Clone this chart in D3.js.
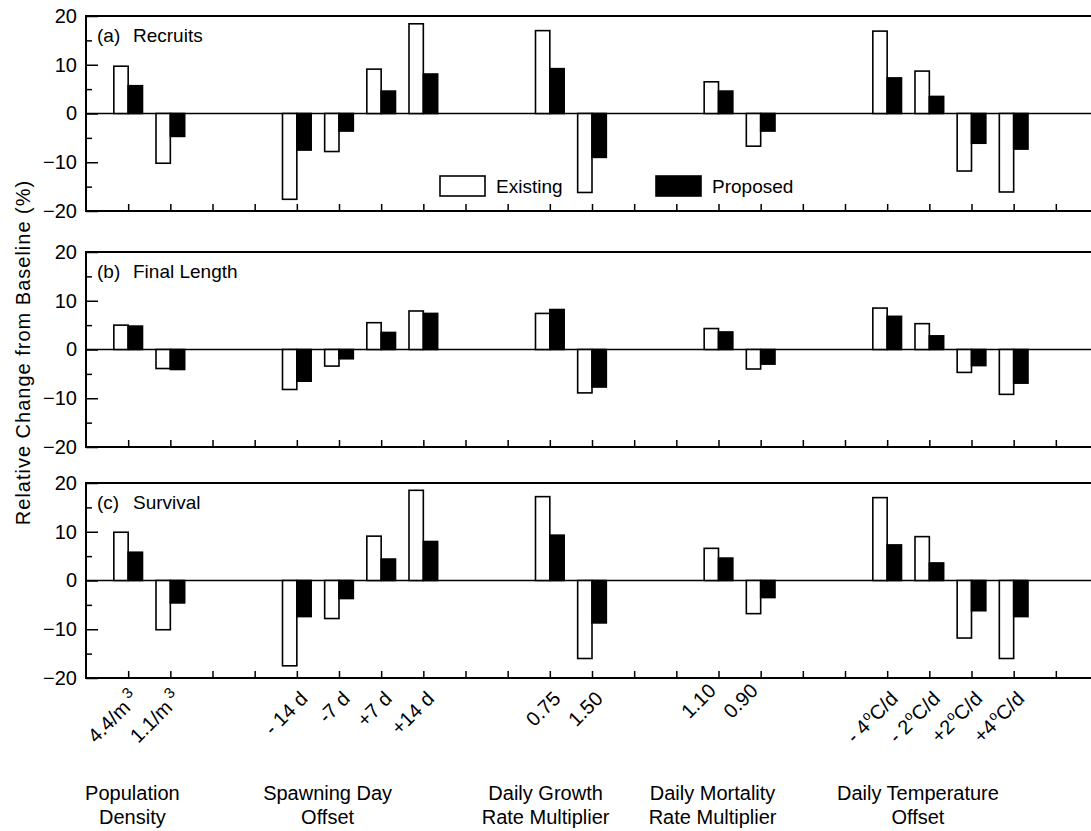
<!DOCTYPE html>
<html lang="en">
  <head>
    <meta charset="utf-8" />
    <title>Relative change from baseline</title>
    <style>
      body { margin: 0; background: #fff; }
      text { font-family: "Liberation Sans", Arial, Helvetica, sans-serif; fill: #000; }
    </style>
  </head>
  <body>
    <script src="https://d3js.org/d3.v7.min.js"></script>
    <div id="chart"></div>
    <script>
      // ---- data ----
      const groupTitles = [
        ["Population", "Density"],
        ["Spawning Day", "Offset"],
        ["Daily Growth", "Rate Multiplier"],
        ["Daily Mortality", "Rate Multiplier"],
        ["Daily Temperature", "Offset"]
      ];
      const groupSizes = [2, 4, 2, 2, 4];
      // [text, superscript, text after superscript]
      const tickLabels = [
        ["4.4/m", "3", ""], ["1.1/m", "3", ""],
        ["- 14 d"], ["-7 d"], ["+7 d"], ["+14 d"],
        ["0.75"], ["1.50"],
        ["1.10"], ["0.90"],
        ["- 4", "o", "C/d"], ["- 2", "o", "C/d"], ["+2", "o", "C/d"], ["+4", "o", "C/d"]
      ];
      const panelNames = ["(a)", "(b)", "(c)"];
      const panelTitles = ["Recruits", "Final Length", "Survival"];
      const seriesNames = ["Existing", "Proposed"];

      const recruitsExisting = [9.7, -10.2, -17.6, -7.8, 9.1, 18.4, 17.0, -16.2, 6.5, -6.7, 16.9, 8.7, -11.8, -16.1];
      const recruitsProposed = [5.7, -4.7, -7.5, -3.6, 4.6, 8.1, 9.2, -9.0, 4.6, -3.6, 7.3, 3.5, -6.1, -7.3];
      const lengthExisting = [5.0, -3.9, -8.2, -3.4, 5.5, 7.9, 7.4, -8.9, 4.3, -4.0, 8.5, 5.3, -4.7, -9.2];
      const lengthProposed = [4.8, -4.1, -6.5, -1.9, 3.5, 7.4, 8.2, -7.7, 3.6, -3.0, 6.8, 2.8, -3.3, -6.9];
      const survivalExisting = [9.9, -10.1, -17.5, -7.8, 9.1, 18.5, 17.2, -16.0, 6.6, -6.8, 17.0, 9.0, -11.8, -16.0];
      const survivalProposed = [5.8, -4.6, -7.4, -3.7, 4.4, 8.0, 9.3, -8.7, 4.6, -3.5, 7.3, 3.6, -6.2, -7.4];

      const yMajor = [-20, -10, 0, 10, 20];
      const yMinor = [-15, -5, 5, 15];

      // ---- layout ----
      const width = 1091, height = 831;
      const panelTop = [16, 252, 483], panelH = 195;
      const barW = 0.34;
      const titleNudge = [-0.4, -0.77, -0.6, -0.64, -0.77];
      const labelNudge = [0, 0, 0, -0.32, 0]; // mortality labels sit left of their ticks

      // slot position of every category: groups separated by two empty slots
      const catPos = [], catGroup = [];
      let slot = 1;
      groupSizes.forEach((n, g) => {
        for (let i = 0; i < n; i++) { catPos.push(slot + i); catGroup.push(g); }
        slot += n + 2;
      });
      const nSlots = slot - 1; // 23

      const panels = [
        [recruitsExisting, recruitsProposed],
        [lengthExisting, lengthProposed],
        [survivalExisting, survivalProposed]
      ];

      const svg = d3.select("#chart").append("svg")
        .attr("width", width).attr("height", height);

      const x = d3.scaleLinear().domain([0, nSlots]).range([86, 1098]);
      const xLeft = x(0), xRight = x(nSlots);

      panels.forEach((series, p) => {
        const top = panelTop[p], bottom = top + panelH;
        const y = d3.scaleLinear().domain([-20, 20]).range([bottom, top]);
        const g = svg.append("g");

        // minor and major y ticks (pointing inward), labels on the left
        g.append("g").attr("transform", `translate(${xLeft},0)`)
          .call(d3.axisLeft(y).tickValues(yMinor).tickSize(-6).tickFormat(""))
          .call(a => a.select(".domain").remove())
          .call(a => a.selectAll("line").attr("stroke-width", 1.5));
        g.append("g").attr("transform", `translate(${xLeft},0)`)
          .call(d3.axisLeft(y).tickValues(yMajor).tickSize(-12).tickPadding(9).tickFormat(d3.format("d")))
          .call(a => a.select(".domain").remove())
          .call(a => a.selectAll("line").attr("stroke-width", 1.5))
          .call(a => a.selectAll("text").attr("font-size", 20).attr("font-family", null).attr("fill", "#000"));

        // x ticks on the bottom edge, pointing up
        g.append("g").attr("transform", `translate(0,${bottom})`)
          .call(d3.axisBottom(x).tickValues(d3.range(1, nSlots)).tickSize(-7).tickFormat(""))
          .call(a => a.select(".domain").remove())
          .call(a => a.selectAll("line").attr("stroke-width", 1.5));

        // zero line
        g.append("line")
          .attr("x1", xLeft).attr("x2", xRight)
          .attr("y1", y(0)).attr("y2", y(0))
          .attr("stroke", "#000").attr("stroke-width", 1.3);

        // bars
        series.forEach((vals, s) => {
          g.selectAll(null).data(vals).join("rect")
            .attr("x", (d, i) => x(catPos[i] + (s === 0 ? -barW : 0)))
            .attr("width", x(barW) - x(0))
            .attr("y", d => y(Math.max(0, d)))
            .attr("height", d => Math.abs(y(d) - y(0)))
            .attr("fill", s === 0 ? "#fff" : "#000")
            .attr("stroke", "#000")
            .attr("stroke-width", 1.6);
        });

        // frame: left, top, bottom
        g.append("path")
          .attr("d", `M${xRight},${top}H${xLeft}V${bottom}H${xRight}`)
          .attr("fill", "none").attr("stroke", "#000").attr("stroke-width", 2);

        // panel label
        g.append("text").attr("x", xLeft + 11).attr("y", top + 26)
          .attr("font-size", 19).text(panelNames[p]);
        g.append("text").attr("x", xLeft + 47).attr("y", top + 26)
          .attr("font-size", 19).text(panelTitles[p]);
      });

      // legend inside panel (a)
      const legend = svg.append("g").attr("transform", `translate(0,${panelTop[0] + 160})`);
      const legendX = [440, 656];
      seriesNames.forEach((name, s) => {
        legend.append("rect")
          .attr("x", legendX[s]).attr("y", 0)
          .attr("width", 45).attr("height", 20)
          .attr("fill", s === 0 ? "#fff" : "#000")
          .attr("stroke", "#000").attr("stroke-width", 1.6);
        legend.append("text")
          .attr("x", legendX[s] + 56).attr("y", 17)
          .attr("font-size", 19).text(name);
      });

      // rotated category labels below the last panel
      const axisY = panelTop[2] + panelH;
      tickLabels.forEach((lab, i) => {
        const nudge = labelNudge[catGroup[i]];
        const t = svg.append("text")
          .attr("transform", `translate(${x(catPos[i] + nudge) + 12},${axisY + (nudge ? 14 : 22)}) rotate(-45)`)
          .attr("text-anchor", "end")
          .attr("font-size", 20);
        t.append("tspan").text(lab[0]);
        if (lab.length > 1) {
          const big = lab[1] === "3";
          t.append("tspan").attr("dx", big ? 4 : 1).attr("dy", big ? -9 : -8)
            .attr("font-size", big ? 15 : 13).text(lab[1]);
          if (lab[2]) t.append("tspan").attr("dy", 8).text(lab[2]);
        }
      });

      // group titles
      groupTitles.forEach((lines, gi) => {
        const members = catPos.filter((_, i) => catGroup[i] === gi);
        const cx = x(d3.mean(members) + titleNudge[gi]);
        const t = svg.append("text").attr("text-anchor", "middle").attr("font-size", 20);
        lines.forEach((ln, k) => {
          t.append("tspan").attr("x", cx).attr("y", 800 + k * 24).text(ln);
        });
      });

      // y axis title
      svg.append("text")
        .attr("transform", `translate(30,${(180 + 525) / 2}) rotate(-90)`)
        .attr("text-anchor", "middle")
        .attr("font-size", 20)
        .attr("letter-spacing", 1)
        .text("Relative Change from Baseline (%)");
    </script>
  </body>
</html>
